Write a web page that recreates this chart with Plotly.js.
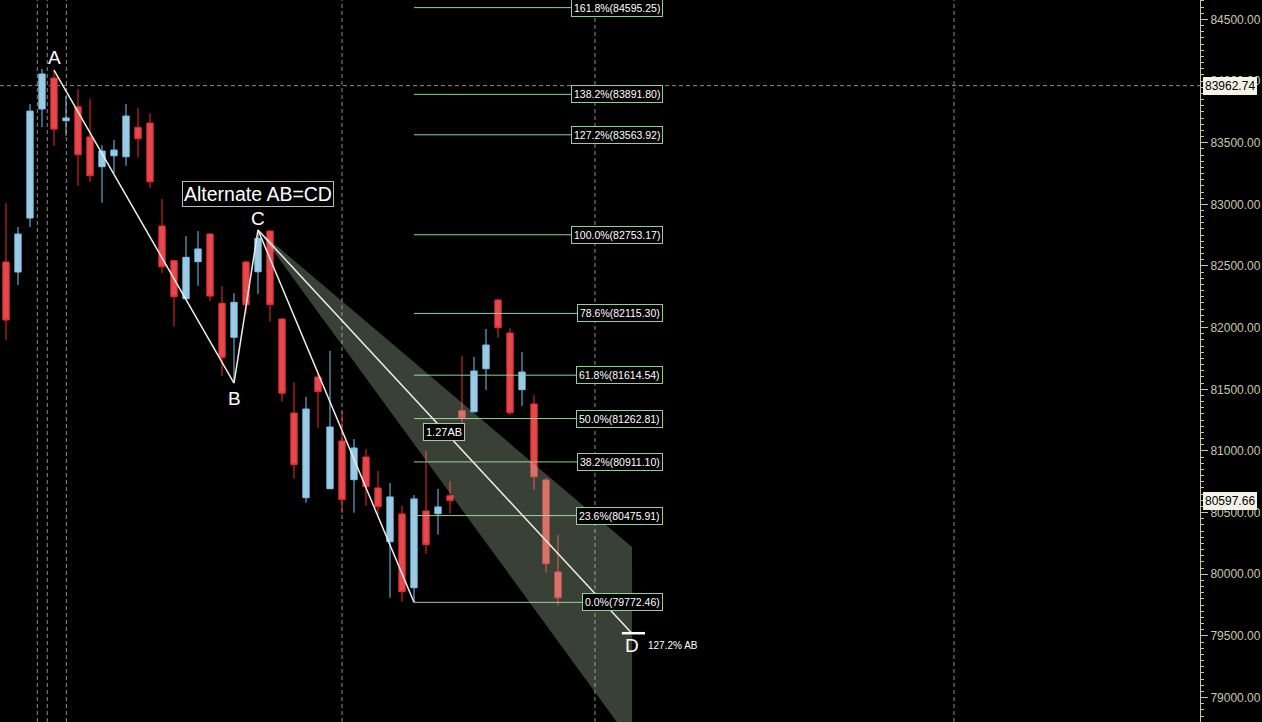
<!DOCTYPE html>
<html>
<head>
<meta charset="utf-8">
<script src="https://cdn.plot.ly/plotly-3.0.1.min.js"></script>
<style>
html,body{margin:0;padding:0;background:#000;overflow:hidden;}
#chart{width:1262px;height:722px;}
</style>
</head>
<body>
<div id="chart"></div>
<script>
// ---------- DATA ----------
const barIndex = [0,1,2,3,4,5,6,7,8,9,10,11,12,13,14,15,16,17,18,19,20,21,22,23,24,25,26,27,28,29,30,31,32,33,34,35,36,37,38,39,40,41,42,43,44,45,46];
const openP  = [82532,82451,82889,83773,84024,83678,83791,83546,83305,83394,83386,83624,83659,82824,82543,82235,82535,82759,82197,81922,82532,82453,82783,82070,81308,80621,81600,80694,81081,80767,80951,80700,80264,80489,79891,80513,80491,80637,81326,81318,81667,82224,81956,81497,81381,80765,80019];
const highP  = [83010,82816,83813,84097,84089,83878,83935,83854,83481,83521,83813,83781,83740,83043,82550,82743,82783,82765,82338,82278,82543,82792,82790,82075,81557,81438,81624,81811,81324,81097,81016,80838,80740,80554,80643,81000,80692,80756,81770,81762,81989,82235,81995,81802,81454,80781,80319];
const lowP   = [81900,82346,82816,83627,83473,83556,83151,83183,83013,83254,83313,83381,83135,82443,82008,82230,82340,82218,81608,81551,82116,82273,82048,81399,80775,80581,81189,80690,80495,80499,80556,80478,79810,79778,79772.46,80165,80321,80491,81211,81312,81494,81918,81292,81365,80684,80013,79745];
const closeP = [82062,82759,83756,84057,83610,83700,83402,83232,83432,83440,83716,83532,83183,82494,82251,82570,82638,82256,81759,82205,82186,82724,82186,81468,80889,81340,81481,81194,80605,81024,80710,80548,80627,79859,80611,80240,80546,80597.66,81270,81648,81859,81999,81310,81640,80791,80086,79810];

// harmonic pattern points A, B, C
const patternLabels = ['A','B','C'];
const patternX = [4, 19, 21];
const patternY = [84089, 81551, 82792];
// CD leg end (actual low) and projected D (127.2% AB)
const cdEndX = 34, cdEndY = 79772.46;
const dX = 52.15, dY = 79522;
// projection cone (upper edge end, lower edge end)
const coneUpper = [52.17, 80221];
const coneLower = [52.17, 78632];

// Fibonacci levels
const fibLabels = ['0.0%','23.6%','38.2%','50.0%','61.8%','78.6%','100.0%','127.2%','138.2%','161.8%'];
const fibValues = [79772.46,80475.91,80911.10,81262.81,81614.54,82115.30,82753.17,83563.92,83891.80,84595.25];

// time separators (vertical dashed)
const vLineX = [2.61, 3.44, 5.03, 28, 49.08, 79];
// price markers
const crossPrice = 83962.74;
const lastPrice = 80597.66;

// ---------- BUILD ----------
const FONT = 'Liberation Sans, Arial, sans-serif';
const shapes = [];
const annotations = [];

vLineX.forEach(x => shapes.push({type:'line', xref:'x', yref:'paper', x0:x, x1:x, y0:0, y1:1,
  line:{color:'#8c8c8c', width:1, dash:'4px,3px'}, layer:'below'}));
shapes.push({type:'line', xref:'paper', yref:'y', x0:0, x1:1, y0:crossPrice, y1:crossPrice,
  line:{color:'#8c8c8c', width:1, dash:'4px,3px'}, layer:'below'});

// fib lines
fibValues.forEach(v => shapes.push({type:'line', xref:'x', yref:'y', x0:34, x1:51, y0:v, y1:v,
  line:{color:'#8fd18f', width:1}, layer:'above'}));

// cone
shapes.push({type:'path', xref:'x', yref:'y', layer:'above',
  path:`M ${patternX[2]},${patternY[2]} L ${coneUpper[0]},${coneUpper[1]} L ${coneLower[0]},${coneLower[1]} Z`,
  fillcolor:'rgba(190,215,180,0.30)', line:{width:0}});

// pattern lines
const lineStyle = {color:'#eeeee6', width:1.5};
shapes.push({type:'line', xref:'x', yref:'y', x0:patternX[0], y0:patternY[0], x1:patternX[1], y1:patternY[1], line:lineStyle, layer:'above'});
shapes.push({type:'line', xref:'x', yref:'y', x0:patternX[1], y0:patternY[1], x1:patternX[2], y1:patternY[2], line:lineStyle, layer:'above'});
shapes.push({type:'line', xref:'x', yref:'y', x0:patternX[2], y0:patternY[2], x1:cdEndX, y1:cdEndY, line:lineStyle, layer:'above'});
shapes.push({type:'line', xref:'x', yref:'y', x0:patternX[2], y0:patternY[2], x1:dX, y1:dY, line:lineStyle, layer:'above'});
shapes.push({type:'line', xref:'x', yref:'y', x0:dX-0.83, y0:dY, x1:dX+1.1, y1:dY, line:{color:'#ffffff', width:2.5}, layer:'above'});

// fib labels
fibLabels.forEach((t,i) => annotations.push({xref:'x', yref:'y', x:54.75, y:fibValues[i],
  text:t + '(' + fibValues[i].toFixed(2) + ')', showarrow:false, xanchor:'right', yanchor:'middle',
  font:{family:FONT, size:10.5, color:'#ffffff'},
  bgcolor:'#000000', bordercolor:'#8fd18f', borderwidth:1, borderpad:2}));

// pattern point labels
annotations.push({xref:'x', yref:'y', x:patternX[0], y:84194, text:patternLabels[0], showarrow:false,
  font:{family:FONT, size:19, color:'#ffffff'}});
annotations.push({xref:'x', yref:'y', x:patternX[1], y:81429, text:patternLabels[1], showarrow:false,
  font:{family:FONT, size:19, color:'#ffffff'}});
annotations.push({xref:'x', yref:'y', x:patternX[2], y:82889, text:patternLabels[2], showarrow:false,
  font:{family:FONT, size:19, color:'#ffffff'}});
annotations.push({xref:'x', yref:'y', x:dX, y:79419, text:'D', showarrow:false,
  font:{family:FONT, size:19, color:'#ffffff'}});
annotations.push({xref:'x', yref:'y', x:53.33, y:79419, text:'127.2% AB', showarrow:false, xanchor:'left',
  font:{family:FONT, size:10, color:'#ffffff'}});
annotations.push({xref:'x', yref:'y', x:21, y:83083, text:'Alternate AB=CD', showarrow:false,
  font:{family:FONT, size:19.5, color:'#ffffff'},
  bgcolor:'#000000', bordercolor:'#bdbdb0', borderwidth:1, borderpad:1});
annotations.push({xref:'x', yref:'y', x:36.5, y:81154, text:'1.27AB', showarrow:false,
  font:{family:FONT, size:11, color:'#ffffff'},
  bgcolor:'#000000', bordercolor:'#bdbdb0', borderwidth:1, borderpad:2});

// price tags
[crossPrice, lastPrice].forEach(p => annotations.push({xref:'paper', yref:'y', x:1, y:p, xshift:3,
  text:p.toFixed(2), showarrow:false, xanchor:'left', yanchor:'middle',
  font:{family:FONT, size:12, color:'#000000'},
  bgcolor:'#f2f2e6', bordercolor:'#f2f2e6', borderwidth:1, borderpad:1}));

const trace = {
  type:'candlestick', x:barIndex, open:openP, high:highP, low:lowP, close:closeP,
  increasing:{line:{color:'#7cc6f2', width:1}, fillcolor:'#9ecae1'},
  decreasing:{line:{color:'#f02c2c', width:1}, fillcolor:'#e04a50'},
  whiskerwidth:0, hoverinfo:'none', showlegend:false
};

const layout = {
  width:1262, height:722,
  margin:{l:0, r:62, t:0, b:0},
  paper_bgcolor:'#000000', plot_bgcolor:'#000000',
  showlegend:false, boxgap:0.25,
  xaxis:{range:[-0.5, 99.5], visible:false, showgrid:false, zeroline:false, rangeslider:{visible:false}, fixedrange:true},
  yaxis:{range:[78802, 84657], side:'right', showgrid:false, zeroline:false,
    showline:true, linecolor:'#c8c8a8', linewidth:1,
    ticks:'outside', ticklen:7, tickcolor:'#c8c8a8', tickwidth:1,
    dtick:500, tick0:0, tickformat:'.2f',
    tickfont:{family:FONT, size:12, color:'#c8c8b0'},
    minor:{dtick:50, ticks:'outside', ticklen:3, tickcolor:'#c8c8a8', showgrid:false}},
  shapes:shapes, annotations:annotations
};

Plotly.newPlot('chart', [trace], layout, {staticPlot:true, displayModeBar:false});
</script>
</body>
</html>
